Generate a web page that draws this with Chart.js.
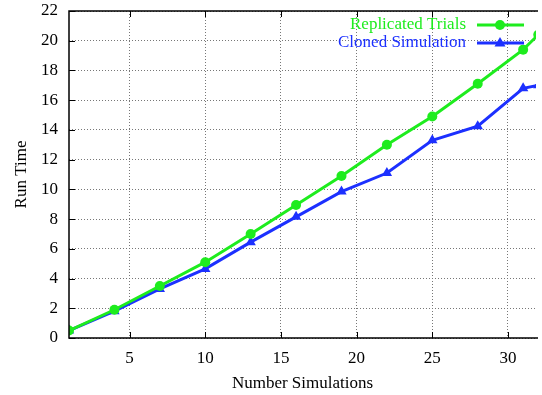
<!DOCTYPE html>
<html>
<head>
<meta charset="utf-8">
<script src="https://cdn.jsdelivr.net/npm/chart.js@4/dist/chart.umd.min.js"></script>
<style>
html, body { margin: 0; padding: 0; background: #fff; }
#wrap { width: 542px; height: 395px; }
</style>
</head>
<body>
<div id="wrap"><canvas id="chart"></canvas></div>
<script>
const simulations = [1, 4, 7, 10, 13, 16, 19, 22, 25, 28, 31, 32];
const replicatedTrials = [0.5, 1.9, 3.5, 5.1, 7.0, 8.95, 10.9, 13.0, 14.9, 17.1, 19.4, 20.4];
const clonedSimulation = [0.5, 1.8, 3.3, 4.65, 6.45, 8.15, 9.85, 11.1, 13.3, 14.25, 16.8, 17.0];
const xTicks = [5, 10, 15, 20, 25, 30];

const GREEN = 'rgb(30,236,30)';
const BLUE = 'rgb(28,48,255)';

Chart.defaults.font.family = "'Liberation Serif', 'Times New Roman', serif";
Chart.defaults.font.size = 17;
Chart.defaults.color = '#000';

// gnuplot style frame, inward ticks and key
const gnuplotLook = {
    id: 'gnuplotLook',
    afterDraw(c) {
        const ctx = c.ctx;
        const a = c.chartArea;
        const xs = c.scales.x, ys = c.scales.y;
        ctx.save();
        ctx.strokeStyle = '#000';
        ctx.lineWidth = 1.5;
        ctx.beginPath();
        ctx.moveTo(a.right + 2, a.top); ctx.lineTo(a.left, a.top);
        ctx.lineTo(a.left, a.bottom); ctx.lineTo(a.right + 2, a.bottom);
        ctx.stroke();
        ctx.lineWidth = 1;
        ctx.beginPath();
        xTicks.forEach(v => {
            const px = Math.round(xs.getPixelForValue(v)) + 0.5;
            ctx.moveTo(px, a.bottom); ctx.lineTo(px, a.bottom - 6);
            ctx.moveTo(px, a.top); ctx.lineTo(px, a.top + 6);
        });
        ys.ticks.forEach(t => {
            const py = Math.round(ys.getPixelForValue(t.value)) + 0.5;
            ctx.moveTo(a.left, py); ctx.lineTo(a.left + 6, py);
        });
        ctx.stroke();

        // key
        const rows = [
            { label: 'Replicated Trials', color: GREEN, shape: 'circle', y: 25 },
            { label: 'Cloned Simulation', color: BLUE, shape: 'triangle', y: 43 }
        ];
        ctx.font = "17px 'Liberation Serif', 'Times New Roman', serif";
        ctx.textAlign = 'right';
        ctx.textBaseline = 'middle';
        rows.forEach(r => {
            ctx.fillStyle = r.color;
            ctx.fillText(r.label, 466, r.y);
            ctx.strokeStyle = r.color;
            ctx.lineWidth = 3;
            ctx.beginPath();
            ctx.moveTo(477, r.y); ctx.lineTo(524, r.y);
            ctx.stroke();
            ctx.beginPath();
            if (r.shape === 'circle') {
                ctx.arc(500, r.y, 5, 0, Math.PI * 2);
            } else {
                ctx.moveTo(500, r.y - 6); ctx.lineTo(505.5, r.y + 3.5); ctx.lineTo(494.5, r.y + 3.5);
                ctx.closePath();
            }
            ctx.fill();
        });
        ctx.restore();
    }
};

new Chart(document.getElementById('chart'), {
    type: 'line',
    data: {
        datasets: [
            {
                label: 'Replicated Trials',
                data: simulations.map((x, i) => ({ x: x, y: replicatedTrials[i] })),
                borderColor: GREEN,
                backgroundColor: GREEN,
                borderWidth: 3,
                pointStyle: 'circle',
                pointRadius: 5,
                pointBorderWidth: 0,
                tension: 0
            },
            {
                label: 'Cloned Simulation',
                data: simulations.map((x, i) => ({ x: x, y: clonedSimulation[i] })),
                borderColor: BLUE,
                backgroundColor: BLUE,
                borderWidth: 3,
                pointStyle: 'triangle',
                pointRadius: 6,
                pointBorderWidth: 0,
                tension: 0
            }
        ]
    },
    options: {
        responsive: true,
        maintainAspectRatio: false,
        animation: false,
        layout: { padding: { top: 11, right: 0, left: 0, bottom: 0 } },
        plugins: {
            legend: { display: false },
            tooltip: { enabled: false }
        },
        scales: {
            x: {
                type: 'linear',
                min: 1,
                max: 31.85,
                afterBuildTicks: s => { s.ticks = xTicks.map(v => ({ value: v })); },
                afterFit: s => { s.height = 57; s.paddingLeft = 0; s.paddingRight = 0; },
                ticks: { padding: 10, maxRotation: 0 },
                grid: { color: '#777', lineWidth: 1, drawTicks: false },
                border: { display: false, dash: [1, 2] },
                title: { display: true, text: 'Number Simulations', padding: { top: 0, bottom: 1 } }
            },
            y: {
                min: 0,
                max: 22,
                ticks: { stepSize: 2, padding: 11 },
                afterFit: s => { s.width = 69; s.paddingTop = 0; s.paddingBottom = 0; },
                grid: { color: '#777', lineWidth: 1, drawTicks: false },
                border: { display: false, dash: [1, 2] },
                title: { display: true, text: 'Run Time', padding: { top: 11, bottom: 0 } }
            }
        }
    },
    plugins: [gnuplotLook]
});
</script>
</body>
</html>
